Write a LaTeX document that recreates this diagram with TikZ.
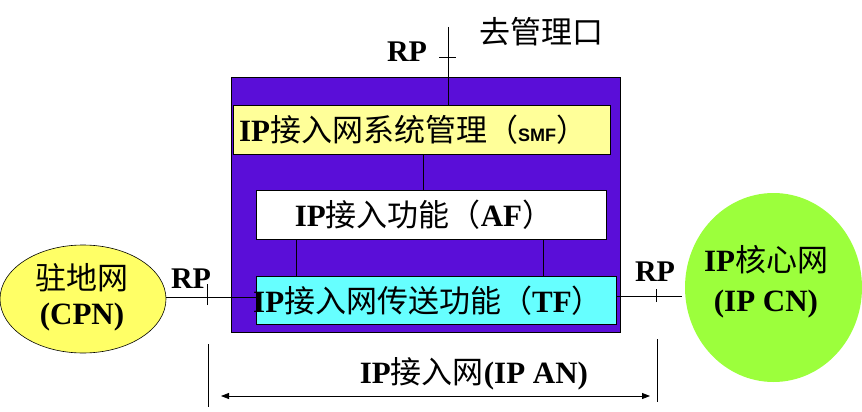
\documentclass[tikz,border=0pt]{standalone}
\usepackage{fontspec}
\setmainfont{Liberation Serif}
\newfontfamily\cjk{Noto Sans CJK SC}
\newfontfamily\arialfont{Liberation Sans}
\usetikzlibrary{shapes.geometric,arrows.meta}
\newcommand{\zh}[1]{{\cjk #1}}
\definecolor{purp}{HTML}{5A0ED8}
\definecolor{smfy}{HTML}{FFFF99}
\definecolor{cpny}{HTML}{FFFF66}
\definecolor{tfcyan}{HTML}{66FFFF}
\definecolor{cngreen}{HTML}{9CFF3C}
\begin{document}
\begin{tikzpicture}[x=1pt,y=-1pt,
  every node/.style={inner sep=0pt,outer sep=0pt},
  box/.style={draw=black,line width=0.8pt,rectangle},
  lab/.style={font=\fontsize{31}{35}\selectfont,align=center},
  rp/.style={font=\fontsize{30}{35}\selectfont\bfseries},
  conn/.style={line width=0.8pt,draw=black}]
\useasboundingbox (0,0) rectangle (862,412);
\clip (0,0) rectangle (862,412);
% main boxes
\node[box,fill=purp,minimum width=389pt,minimum height=255pt] (an) at (425.5,204.5) {};
\node[box,fill=smfy,minimum width=377pt,minimum height=49pt] (smf) at (421.5,129.5) {};
\node[box,fill=white,minimum width=350pt,minimum height=49pt] (af) at (431,214.5) {};
\node[box,fill=tfcyan,minimum width=360pt,minimum height=48pt] (tf) at (436,300) {};
% clouds
\node[ellipse,draw=black,line width=0.6pt,fill=cpny,minimum width=166pt,minimum height=108pt] (cpn) at (83,299) {};
\node[ellipse,draw=none,fill=cngreen,minimum width=177pt,minimum height=189pt] (cn) at (773.5,287.5) {};
% inner connectors
\draw[conn] ([xshift=1.5pt]smf.south) -- ([xshift=-8pt]af.north);
\draw[conn] ([xshift=-135pt]af.south) -- ([xshift=-140pt]tf.north);
\draw[conn] ([xshift=112pt]af.south) -- ([xshift=107pt]tf.north);
% texts in boxes
\node[lab] (smft) at (413,130) {\textbf{IP}\zh{接入网系统管理（}{\arialfont\bfseries\fontsize{18}{20}\selectfont SMF}\zh{）}};
\node[lab] (aft) at (424,215) {\textbf{IP}\zh{接入功能（}\textbf{AF}\zh{）}};
\node[lab] (tft) at (428,301) {\textbf{IP}\zh{接入网传送功能（}\textbf{TF}\zh{）}};
% top management
\coordinate (mg) at (448,27);
\draw[conn] (mg) -- (mg |- smf.north);
\coordinate (tk1) at (448,57);
\draw[conn] ([xshift=-9pt]tk1) -- ([xshift=8pt]tk1);
\node[rp] (rp1) at (407,52) {RP};
\node[lab] (mgt) at (541,32) {\zh{去管理口}};
% left connection
\coordinate (lc) at (256,297);
\draw[conn] (cpn.east |- lc) -- (lc);
\coordinate (tk2) at (207,297);
\draw[conn] ([yshift=-8pt]tk2) -- ([yshift=13pt]tk2);
\node[rp] (rp2) at (191,279) {RP};
% right connection
\coordinate (rc) at (682,296);
\draw[conn] (tf.east |- rc) -- (rc);
\coordinate (tk3) at (656,296);
\draw[conn] ([yshift=-6pt]tk3) -- ([yshift=7pt]tk3);
\node[rp] (rp3) at (655,272) {RP};
% cloud labels
\node[lab,font=\fontsize{31}{35}\selectfont] (cpnt) at (82,297) {\zh{驻地网}\\\textbf{(CPN)}};
\node[lab,font=\fontsize{31}{40}\selectfont] (cnt) at (766,282) {\textbf{IP}\zh{核心网}\\\textbf{(IP CN)}};
% bottom span
\coordinate (bl1) at (208,344);
\coordinate (bl2) at (208,407);
\coordinate (br1) at (657,339);
\coordinate (br2) at (657,402);
\draw[conn] (bl1) -- (bl2);
\draw[conn] (br1) -- (br2);
\coordinate (al) at (221,396);
\coordinate (ar) at (650,396);
\draw[conn,{Triangle[length=8pt,width=6pt]}-{Triangle[length=8pt,width=6pt]}] (al) -- (ar);
\node[lab] (ant) at (474,374) {\textbf{IP}\zh{接入网}\textbf{(IP AN)}};
\end{tikzpicture}
\end{document}
